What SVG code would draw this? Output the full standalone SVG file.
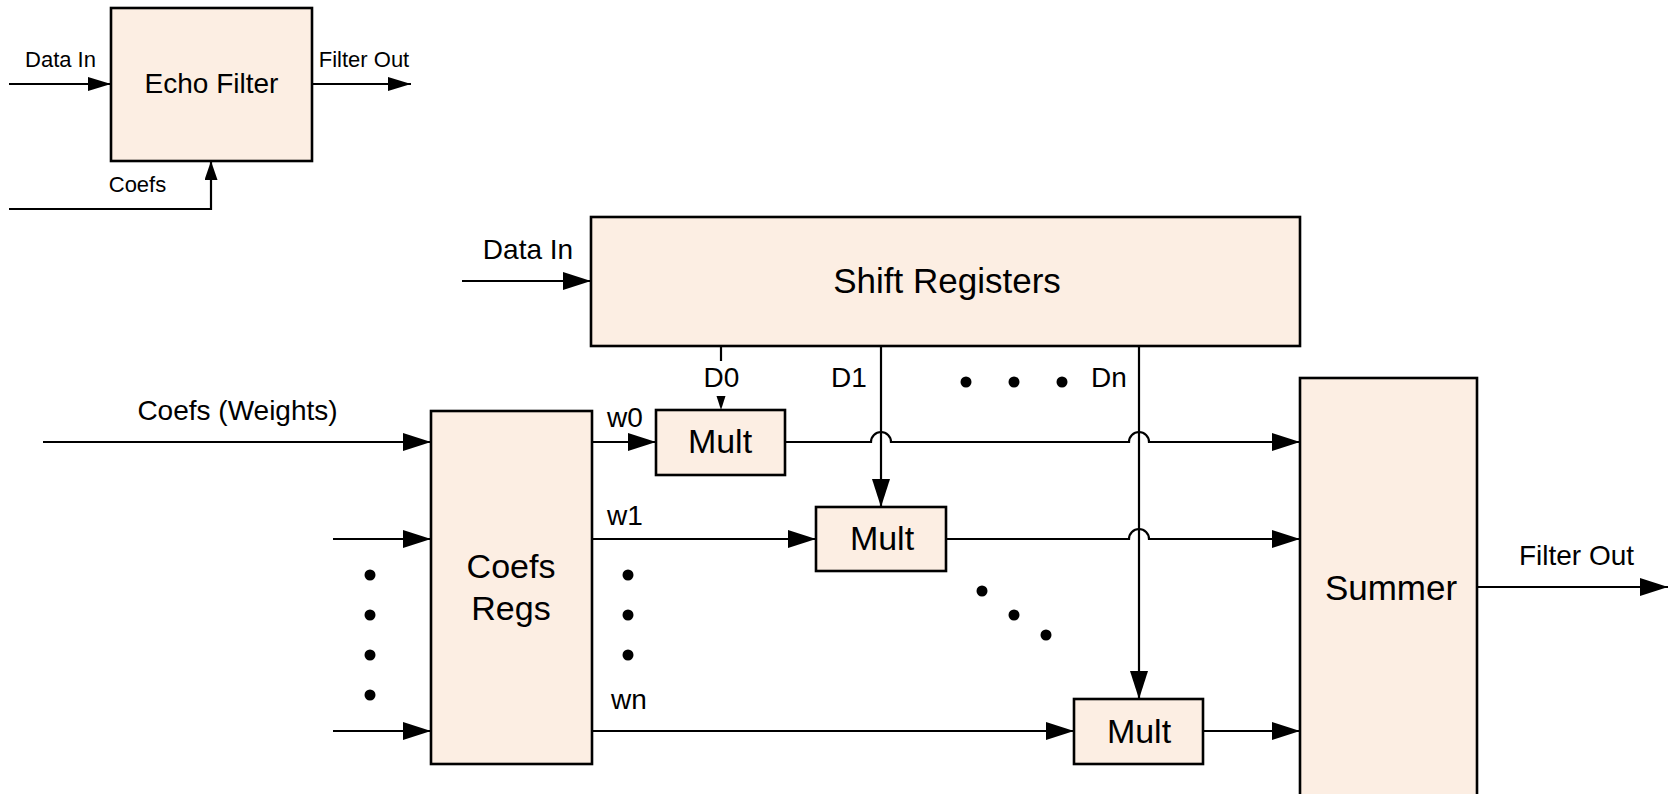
<svg xmlns="http://www.w3.org/2000/svg" width="1668" height="794" viewBox="0 0 1668 794">
  <style>
    .box { fill: #FCEEE3; stroke: #000; stroke-width: 2.6; }
    .wire { fill: none; stroke: #000; stroke-width: 2.2; }
    .dot { fill: #000; }
    text { font-family: "Liberation Sans", Arial, sans-serif; fill: #000; }
    .t22 { font-size: 22px; }
    .t28 { font-size: 28px; }
    .t34 { font-size: 34px; }
    .t35 { font-size: 35px; }
    .mid { text-anchor: middle; }
  </style>
  <defs>
    <marker id="arr" viewBox="0 0 28 18" refX="28" refY="9" markerWidth="28" markerHeight="18" markerUnits="userSpaceOnUse" orient="auto">
      <path d="M0,0 L28,9 L0,18 Z" fill="#000"/>
    </marker>
    <marker id="arrS" viewBox="0 0 23 14" refX="23" refY="7" markerWidth="23" markerHeight="14" markerUnits="userSpaceOnUse" orient="auto">
      <path d="M0,0 L23,7 L0,14 Z" fill="#000"/>
    </marker>
    <marker id="arrC" viewBox="0 0 19 13" refX="19" refY="6.5" markerWidth="19" markerHeight="13" markerUnits="userSpaceOnUse" orient="auto">
      <path d="M0,0 L19,6.5 L0,13 Z" fill="#000"/>
    </marker>
  </defs>

  <rect width="1668" height="794" fill="#fff"/>

  <!-- top-level block: Echo Filter -->
  <g id="echo-filter">
    <rect class="box" x="111" y="8" width="201" height="153"/>
    <text class="t28 mid" x="211.5" y="93">Echo Filter</text>
  </g>

  <!-- datapath blocks -->
  <g id="shift-registers">
    <rect class="box" x="591" y="217" width="709" height="129"/>
    <text class="t35 mid" x="947" y="293">Shift Registers</text>
  </g>
  <g id="coefs-regs">
    <rect class="box" x="431" y="411" width="161" height="353"/>
    <text class="t34 mid" x="511" y="578">Coefs</text>
    <text class="t34 mid" x="511" y="620">Regs</text>
  </g>
  <g id="mult-0">
    <rect class="box" x="656" y="410" width="129" height="65"/>
    <text class="t34 mid" x="720" y="453">Mult</text>
  </g>
  <g id="mult-1">
    <rect class="box" x="816" y="507" width="130" height="64"/>
    <text class="t34 mid" x="882" y="550">Mult</text>
  </g>
  <g id="mult-n">
    <rect class="box" x="1074" y="699" width="129" height="65"/>
    <text class="t34 mid" x="1139" y="743">Mult</text>
  </g>
  <g id="summer">
    <rect class="box" x="1300" y="378" width="177" height="430"/>
    <text class="t35 mid" x="1391" y="600">Summer</text>
  </g>

  <!-- connectors -->
  <g id="connectors">
    <!-- Echo Filter ports -->
    <path class="wire" d="M9,84 H111" marker-end="url(#arrS)"/>
    <path class="wire" d="M312,84 H411" marker-end="url(#arrS)"/>
    <path class="wire" d="M9,209 H211 V161" marker-end="url(#arrC)"/>

    <!-- data into shift registers -->
    <path class="wire" d="M462,281 H591" marker-end="url(#arr)"/>

    <!-- taps D0, D1, Dn -->
    <path class="wire" d="M721,346 V361"/>
    <polygon points="716.5,396 725.5,396 721,410" fill="#000"/>
    <path class="wire" d="M881,346 V507" marker-end="url(#arr)"/>
    <path class="wire" d="M1139,346 V699" marker-end="url(#arr)"/>

    <!-- coefficient inputs -->
    <path class="wire" d="M43,442 H431" marker-end="url(#arr)"/>
    <path class="wire" d="M333,539 H431" marker-end="url(#arr)"/>
    <path class="wire" d="M333,731 H431" marker-end="url(#arr)"/>

    <!-- weights to multipliers -->
    <path class="wire" d="M592,442 H656" marker-end="url(#arr)"/>
    <path class="wire" d="M592,539 H816" marker-end="url(#arr)"/>
    <path class="wire" d="M592,731 H1074" marker-end="url(#arr)"/>

    <!-- products to summer, hopping over the tap lines -->
    <path class="wire" d="M785,442 H871 A10,10 0 0 1 891,442 H1129 A10,10 0 0 1 1149,442 H1300" marker-end="url(#arr)"/>
    <path class="wire" d="M946,539 H1129 A10,10 0 0 1 1149,539 H1300" marker-end="url(#arr)"/>
    <path class="wire" d="M1203,731 H1300" marker-end="url(#arr)"/>

    <!-- output -->
    <path class="wire" d="M1477,587 H1668" marker-end="url(#arr)"/>
  </g>

  <!-- ellipsis dots -->
  <g id="ellipses">
    <circle class="dot" cx="370" cy="575" r="5.5"/>
    <circle class="dot" cx="370" cy="615" r="5.5"/>
    <circle class="dot" cx="370" cy="655" r="5.5"/>
    <circle class="dot" cx="370" cy="695" r="5.5"/>
    <circle class="dot" cx="628" cy="575" r="5.5"/>
    <circle class="dot" cx="628" cy="615" r="5.5"/>
    <circle class="dot" cx="628" cy="655" r="5.5"/>
    <circle class="dot" cx="966" cy="382" r="5.5"/>
    <circle class="dot" cx="1014" cy="382" r="5.5"/>
    <circle class="dot" cx="1062" cy="382" r="5.5"/>
    <circle class="dot" cx="982" cy="591" r="5.5"/>
    <circle class="dot" cx="1014" cy="615" r="5.5"/>
    <circle class="dot" cx="1046" cy="635" r="5.5"/>
  </g>

  <!-- signal labels -->
  <g id="labels">
    <text class="t22 mid" x="60.5" y="67">Data In</text>
    <text class="t22 mid" x="364" y="67">Filter Out</text>
    <text class="t22 mid" x="137.5" y="192">Coefs</text>
    <text class="t28 mid" x="528" y="259">Data In</text>
    <text class="t28 mid" x="721.5" y="387">D0</text>
    <text class="t28 mid" x="849" y="387">D1</text>
    <text class="t28 mid" x="1109" y="387">Dn</text>
    <text class="t28 mid" x="237.5" y="420">Coefs (Weights)</text>
    <text class="t28" x="607" y="427">w0</text>
    <text class="t28" x="607" y="525">w1</text>
    <text class="t28" x="611" y="709">wn</text>
    <text class="t28 mid" x="1576.5" y="565">Filter Out</text>
  </g>
</svg>
